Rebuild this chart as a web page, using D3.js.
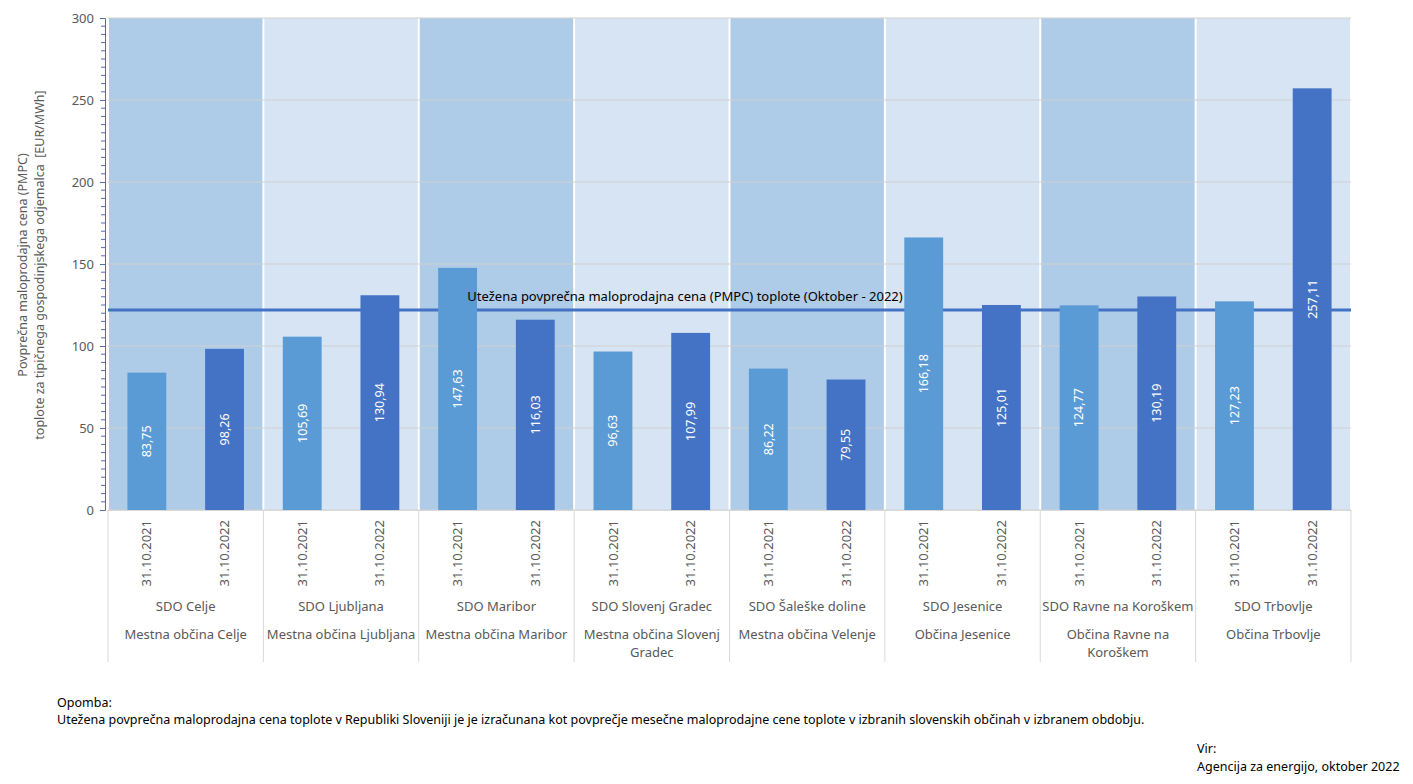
<!DOCTYPE html>
<html><head><meta charset="utf-8">
<script src="https://cdn.jsdelivr.net/npm/d3@7"></script>
<style>
body{margin:0;background:#fff;}
text{font-family:"Noto Sans","Open Sans",sans-serif;}
</style></head><body>
<svg id="c" width="1413" height="784"></svg>
<script>
const utilities = ["SDO Celje","SDO Ljubljana","SDO Maribor","SDO Slovenj Gradec","SDO Šaleške doline","SDO Jesenice","SDO Ravne na Koroškem","SDO Trbovlje"];
const municipalities = ["Mestna občina Celje","Mestna občina Ljubljana","Mestna občina Maribor","Mestna občina Slovenj Gradec","Mestna občina Velenje","Občina Jesenice","Občina Ravne na Koroškem","Občina Trbovlje"];
const dates = ["31.10.2021","31.10.2022"];
const values2021 = [83.75,105.69,147.63,96.63,86.22,166.18,124.77,127.23];
const values2022 = [98.26,130.94,116.03,107.99,79.55,125.01,130.19,257.11];
const averageValue = 121.9;
const averageLabel = "Utežena povprečna maloprodajna cena (PMPC) toplote (Oktober - 2022)";
const yTicks = [0,50,100,150,200,250,300];

(function(){
const svg = d3.select("#c");
const pL = 108, pR = 1351, pT = 18, pB = 510;
const y = d3.scaleLinear().domain([0,300]).range([pB, pT]);
const gx = d3.scaleBand().domain(utilities).range([pL,pR]);
const ix = d3.scaleBand().domain(dates).range([0,gx.bandwidth()]).paddingInner(0.5).paddingOuter(0.25);
const colors = ["#5b9bd5","#4472c4"];
const bandColors = ["#aecbe8","#d6e4f3"];

// background bands
svg.append("g").selectAll("rect").data(utilities).join("rect")
  .attr("x", d=>gx(d)+1).attr("width", gx.bandwidth()-2)
  .attr("y", y(300)).attr("height", y(0)-y(300))
  .attr("fill", (d,i)=>bandColors[i%2]);

// gridlines
svg.append("g").selectAll("line").data(yTicks).join("line")
  .attr("x1", pL).attr("x2", pR).attr("y1", d=>y(d)).attr("y2", d=>y(d))
  .attr("stroke", "#d0d0d0").attr("stroke-width", 1);

// average line (behind bars)
svg.append("line").attr("x1", pL).attr("x2", pR)
  .attr("y1", y(averageValue)).attr("y2", y(averageValue))
  .attr("stroke","#4472c4").attr("stroke-width",3);

// bars
const rows = [];
utilities.forEach((u,i)=>{
  rows.push({u, d:dates[0], v:values2021[i], s:0});
  rows.push({u, d:dates[1], v:values2022[i], s:1});
});
svg.append("g").selectAll("rect").data(rows).join("rect")
  .attr("x", r=>gx(r.u)+ix(r.d)).attr("width", ix.bandwidth())
  .attr("y", r=>y(r.v)).attr("height", r=>y(0)-y(r.v))
  .attr("fill", r=>colors[r.s]);

// value labels
const fmt = v => d3.format(".2f")(v).replace(".", ",");
svg.append("g").selectAll("text").data(rows).join("text")
  .attr("transform", r=>`translate(${gx(r.u)+ix(r.d)+ix.bandwidth()/2},${(y(r.v)+y(0))/2}) rotate(-90)`)
  .attr("text-anchor","middle").attr("dy","0.35em")
  .attr("fill","#fff").attr("font-size","12.5px").text(r=>fmt(r.v));

// average label
svg.append("text").attr("x", 685).attr("y", y(averageValue)-9)
  .attr("text-anchor","middle").attr("font-size","13px").attr("fill","#000").text(averageLabel);

// y axis
const yAxis = d3.axisLeft(y).tickValues(yTicks).tickSize(5).tickPadding(6);
const ya = svg.append("g").attr("transform",`translate(${pL-3},0)`).call(yAxis);
ya.select(".domain").attr("stroke","#4a6fb5");
ya.selectAll(".tick line").attr("stroke","#4a6fb5");
ya.selectAll(".tick text").attr("fill","#595959").attr("font-size","13px").attr("font-family","'Noto Sans',sans-serif");
const minor = d3.range(0,301,5).filter(v=>v%50!==0);
svg.append("g").selectAll("line").data(minor).join("line")
  .attr("x1", pL-3).attr("x2", pL-7).attr("y1", d=>y(d)).attr("y2", d=>y(d))
  .attr("stroke","#4a6fb5");

// y title
const yt = svg.append("text").attr("transform","translate(27,265) rotate(-90)")
  .attr("text-anchor","middle").attr("fill","#595959").attr("font-size","12.5px")
  .attr("xml:space","preserve").style("white-space","pre");
yt.append("tspan").attr("x",0).attr("dy",0).text("Povprečna maloprodajna cena (PMPC)");
yt.append("tspan").attr("x",0).attr("dy","1.35em").text("toplote za tipičnega gospodinjskega odjemalca\u00a0\u00a0[EUR/MWh]");

// x axis: separators
const xa = svg.append("g");
xa.append("line").attr("x1",pL).attr("x2",pR).attr("y1",pB+0.5).attr("y2",pB+0.5).attr("stroke","#d9d9d9");
const seps = utilities.map(u=>gx(u)).concat([pR]);
xa.selectAll("line.sep").data(seps).join("line").attr("class","sep")
  .attr("x1",d=>d).attr("x2",d=>d).attr("y1",pB).attr("y2",662)
  .attr("stroke","#d9d9d9");

// date labels
xa.selectAll("text.date").data(rows).join("text").attr("class","date")
  .attr("transform", r=>`translate(${gx(r.u)+ix(r.d)+ix.bandwidth()/2},${pB+10}) rotate(-90)`)
  .attr("text-anchor","end").attr("dy","0.35em").attr("fill","#595959").attr("font-size","13px")
  .text(r=>r.d);

// utility labels
xa.selectAll("text.util").data(utilities).join("text").attr("class","util")
  .attr("x", d=>gx(d)+gx.bandwidth()/2).attr("y", 611)
  .attr("text-anchor","middle").attr("fill","#595959").attr("font-size","13px").text(d=>d);

// municipality labels with wrapping
const maxW = gx.bandwidth()-4;
municipalities.forEach((m,i)=>{
  const cx = gx(utilities[i])+gx.bandwidth()/2;
  const t = xa.append("text").attr("x", cx).attr("y",639)
    .attr("text-anchor","middle").attr("fill","#595959").attr("font-size","13px");
  const words = m.split(" ");
  let line = [], ts = t.append("tspan").attr("x", cx).attr("dy",0);
  words.forEach(w=>{
    line.push(w); ts.text(line.join(" "));
    if (ts.node().getComputedTextLength() > maxW && line.length>1) {
      line.pop(); ts.text(line.join(" ")); line=[w];
      ts = t.append("tspan").attr("x", cx).attr("dy",18).text(w);
    }
  });
});

// footer
const foot = svg.append("g").attr("font-size","12.5px").attr("fill","#000");
foot.append("text").attr("x",57).attr("y",707).text("Opomba:");
foot.append("text").attr("x",57).attr("y",724).text("Utežena povprečna maloprodajna cena toplote v Republiki Sloveniji je je izračunana kot povprečje mesečne maloprodajne cene toplote v izbranih slovenskih občinah v izbranem obdobju.");
foot.append("text").attr("x",1197).attr("y",753).text("Vir:");
foot.append("text").attr("x",1197).attr("y",771).text("Agencija za energijo, oktober 2022");
})();
</script></body></html>
